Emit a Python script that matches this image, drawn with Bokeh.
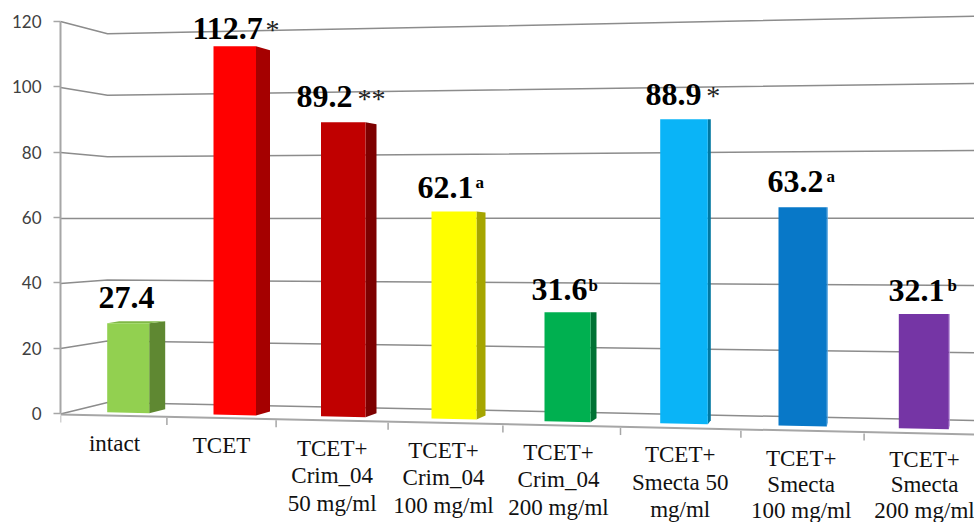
from bokeh.plotting import figure
from bokeh.models import Range1d, FixedTicker
from bokeh.core.properties import value
from bokeh.embed import file_html
from bokeh.resources import INLINE

# ---------- data ----------
categories = ["intact", "TCET", "TCET+\nCrim_04\n50 mg/ml", "TCET+\nCrim_04\n100 mg/ml",
              "TCET+\nCrim_04\n200 mg/ml", "TCET+\nSmecta 50\nmg/ml",
              "TCET+\nSmecta\n100 mg/ml", "TCET+\nSmecta\n200 mg/ml"]
values = [27.4, 112.7, 89.2, 62.1, 31.6, 88.9, 63.2, 32.1]
marks = ["", "*", "**", "a", "b", "*", "a", "b"]
y_ticks = [0, 20, 40, 60, 80, 100, 120]

# ---------- colours ----------
front_colors = ["#92D050", "#FF0000", "#C00000", "#FFFF00", "#00B050", "#0AB4F7", "#0878C8", "#7535A5"]
side_colors = ["#5F8832", "#A50000", "#7D0000", "#A6A600", "#007234", "#0077A0", "#4FA0DC", "#B48AD8"]
top_color = "#7FB846"
grid_color = "#8C8C8C"
axis_color = "#A6A6A6"

# ---------- layout of the oblique view, in page pixels ----------
PX_PER_UNIT = 3.2667
ZERO_PX = 413.0
FRAME_L, FRAME_R, FRAME_T, FRAME_B = 60, 974, 0, 522
BASE_FIX = 0.32  # em, shift that puts the baseline of the SVG text where it is asked for


def v(px):
    return (ZERO_PX - px) / PX_PER_UNIT


bar_left = [106.7, 213, 320.5, 431, 544, 659.7, 778, 898.3]
bar_right = [148.7, 255.5, 365, 476, 590, 707.3, 826.3, 948.3]
side_width = [16, 14, 11, 9, 6, 3, 1, 1]
base_px = [411.7, 414, 415.7, 418, 420.7, 422.7, 425, 427.7]
persp = [0.995, 1.0, 1.009, 1.02, 1.056, 1.047, 1.057, 1.09]
side_top = [-2, 4, 2, 1, 0, 0, 0, 0]
FLOOR_SLOPE = 0.0224

label_left = [98, 192, 296, 417, 531, 645, 767, 888]
label_gap = [15, 7.4, 15, 14, 12, 14.7, 15.7, 13.3]
mark_left = [0, 265, 357, 475, 588, 705.7, 826, 947]

cat_center = [114, 221, 331.7, 443, 558, 679.7, 800.7, 924]
cat_baseline = [450.7, 452.7, 455, 457, 459, 461.7, 465, 466]
line_step = [27.5, 27.5, 27.5, 27.5, 27.5, 27.5, 26, 25.5]

# wall lines: y pixel at the axis, at the corner and at the right edge, per tick
wall_px = {120: (21, 33.3, 15.7), 100: (87, 94.7, 83), 80: (152, 156.3, 150), 60: (218, 218, 217.7),
           40: (283, 279.5, 285), 20: (348, 340.5, 352.3), 0: (413.5, 402, 420)}
CORNER_X = 107

p = figure(width=974, height=522, output_backend="svg", toolbar_location=None,
           x_range=Range1d(FRAME_L, FRAME_R), y_range=Range1d(v(FRAME_B), v(FRAME_T)),
           min_border_left=60, min_border_right=0, min_border_top=0, min_border_bottom=0)
p.outline_line_color = None
p.background_fill_color = "white"
p.border_fill_color = "white"
p.xgrid.visible = False
p.ygrid.visible = False
p.xaxis.visible = False
ax = p.yaxis[0]
ax.ticker = FixedTicker(ticks=y_ticks)
ax.bounds = (0, 120)
ax.axis_line_color = axis_color
ax.axis_line_width = 2
ax.major_tick_line_color = axis_color
ax.major_tick_line_width = 1.5
ax.major_tick_in = 0
ax.major_tick_out = 7
ax.minor_tick_line_color = None
ax.major_label_text_font = "Lato"
ax.major_label_text_font_size = "17px"
ax.major_label_text_color = "#404040"
ax.major_label_standoff = 12

# wall gridlines
xs_w, ys_w = [], []
for t in y_ticks:
    a, c, r = wall_px[t]
    xs_w.append([FRAME_L, CORNER_X, FRAME_R])
    ys_w.append([v(a), v(c), v(r)])
p.multi_line(xs_w, ys_w, line_color=grid_color, line_width=1.5)

# floor front edge and its ticks
p.line([FRAME_L, FRAME_R], [v(414), v(434)], line_color=axis_color, line_width=2)


def slot(i):
    return 60 + 105 * i + 1.4 * i * i


tick_x = [slot(i) for i in range(8)]
p.segment(tick_x, [v(414 + FLOOR_SLOPE * (x - 60) + 1) for x in tick_x],
          tick_x, [v(414 + FLOOR_SLOPE * (x - 60) + 8) for x in tick_x],
          line_color=axis_color, line_width=1.5)

# bars
fx, fy, sx, sy, tx, ty, tops = [], [], [], [], [], [], []
for i, val in enumerate(values):
    L, R, S = bar_left[i], bar_right[i], bar_right[i] + side_width[i]
    base = v(base_px[i])
    top = base + val * persp[i]
    tops.append(top)
    tilt = FLOOR_SLOPE * (R - L) / PX_PER_UNIT
    fx.append([L, R, R, L])
    fy.append([top, top, base - tilt, base])
    sx.append([R, S, S, R])
    sy.append([top, top - side_top[i] / PX_PER_UNIT, base - tilt + 4 / PX_PER_UNIT, base - tilt])
    if side_top[i] < 0:
        rise = -side_top[i] / PX_PER_UNIT
        tx.append([L, L + 12, S, R])
        ty.append([top, top + rise, top + rise, top])
p.patches(sx, sy, fill_color=side_colors, line_color=None)
if tx:
    p.patches(tx, ty, fill_color=top_color, line_color=None)
p.patches(fx, fy, fill_color=front_colors, line_color=None)

# value labels
SERIF = value("Liberation Serif")
p.text(label_left, tops, text=[f"{x:.1f}" for x in values], text_font=SERIF,
       text_font_size=value("32px"), text_font_style="bold", text_color="black",
       text_baseline="alphabetic", text_align="left",
       y_offset=[-g - BASE_FIX * 32 for g in label_gap])
for i, m in enumerate(marks):
    if not m:
        continue
    star = m.startswith("*")
    size = 28 if star else 17
    p.text([mark_left[i]], [tops[i]], text=[m], text_font=SERIF,
           text_font_size=value(f"{size}px"),
           text_font_style="normal" if star else "bold", text_color="#222222" if star else "black",
           text_baseline="alphabetic", text_align="left",
           y_offset=[-(label_gap[i] if star else label_gap[i] + 9.5) - BASE_FIX * size])

# category labels
cx, cy, ct = [], [], []
for i, c in enumerate(categories):
    for j, line in enumerate(c.split("\n")):
        cx.append(cat_center[i])
        cy.append(v(cat_baseline[i] + j * line_step[i]))
        ct.append(line)
p.text(cx, cy, text=ct, text_font=SERIF, text_font_size=value("23px"), text_color="#111111",
       text_baseline="alphabetic", text_align="center", y_offset=-BASE_FIX * 23)

open("out.html", "w").write(file_html(p, INLINE))
